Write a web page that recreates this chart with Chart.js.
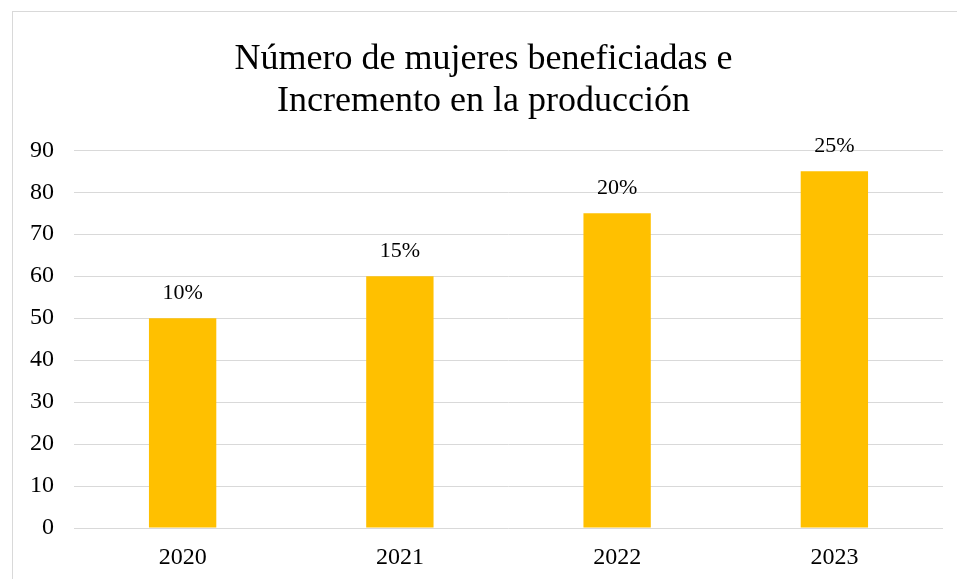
<!DOCTYPE html>
<html>
<head>
<meta charset="utf-8">
<script src="https://cdn.jsdelivr.net/npm/chart.js@4.4.1/dist/chart.umd.min.js"></script>
<style>
    html, body { margin: 0; padding: 0; background: #fff; }
    #wrap { width: 957px; height: 579px; }
</style>
</head>
<body>
<div id="wrap"><canvas id="barChart" width="957" height="579"></canvas></div>
<script>
// datos del grafico
var years = ['2020', '2021', '2022', '2023'];
var mujeres = [50, 60, 75, 85];
var incremento = ['10%', '15%', '20%', '25%'];
var titleLines = ['Número de mujeres beneficiadas e', 'Incremento en la producción'];

var serif = "'Liberation Serif', 'Times New Roman', serif";

// marco gris alrededor del grafico
var framePlugin = {
    id: 'frame',
    beforeDraw: function (chart) {
        var ctx = chart.ctx;
        ctx.save();
        ctx.fillStyle = '#fff';
        ctx.fillRect(0, 0, chart.width, chart.height);
        ctx.strokeStyle = '#d9d9d9';
        ctx.lineWidth = 1;
        ctx.strokeRect(12.5, 11.5, chart.width, chart.height);
        ctx.restore();
    }
};

// etiquetas de porcentaje encima de cada barra
var labelPlugin = {
    id: 'pctLabels',
    afterDatasetsDraw: function (chart) {
        var ctx = chart.ctx;
        var meta = chart.getDatasetMeta(0);
        ctx.save();
        ctx.font = '22px ' + serif;
        ctx.fillStyle = '#000';
        ctx.textAlign = 'center';
        ctx.textBaseline = 'middle';
        meta.data.forEach(function (bar, i) {
            ctx.fillText(incremento[i], bar.x, bar.y - 25);
        });
        ctx.restore();
    }
};

var ctx = document.getElementById('barChart').getContext('2d');
var chart = new Chart(ctx, {
    type: 'bar',
    data: {
        labels: years,
        datasets: [{
            data: mujeres,
            backgroundColor: '#ffc000',
            borderWidth: 0,
            categoryPercentage: 1,
            barPercentage: 0.31
        }]
    },
    options: {
        responsive: false,
        animation: false,
        layout: { padding: { left: 24, right: 14, top: 0, bottom: 0 } },
        plugins: {
            legend: { display: false },
            tooltip: { enabled: false },
            title: {
                display: true,
                text: titleLines,
                color: '#000',
                font: { family: serif, size: 36, weight: 'normal', lineHeight: 1.17 },
                padding: { top: 38, bottom: 28 }
            }
        },
        scales: {
            x: {
                grid: { display: false, drawTicks: false },
                border: { display: false },
                ticks: { color: '#000', font: { family: serif, size: 24 }, padding: 15 },
                afterFit: function (s) { s.height = 51; }
            },
            y: {
                min: 0,
                max: 90,
                ticks: { stepSize: 10, color: '#000', font: { family: serif, size: 24 }, padding: 20 },
                grid: { color: '#d9d9d9', lineWidth: 1, drawTicks: false },
                border: { display: false },
                afterFit: function (s) { s.width = 50; }
            }
        }
    },
    plugins: [framePlugin, labelPlugin]
});
</script>
</body>
</html>
